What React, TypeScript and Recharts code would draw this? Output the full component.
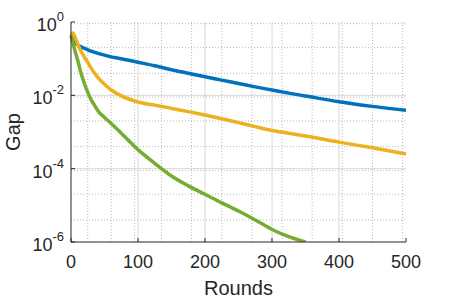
import { LineChart, Line, XAxis, YAxis, CartesianGrid } from 'recharts';

// sampled rounds shared by all three runs
const rounds = [0, 3, 5, 8, 10, 15, 20, 25, 30, 35, 40, 50, 60, 75, 100, 125, 150, 175, 200, 225, 250, 275, 300, 325, 350, 400, 450, 500];

const blueGap = [0.42, 0.34, 0.3, 0.26, 0.24, 0.21, 0.19, 0.175, 0.16, 0.15, 0.14, 0.125, 0.112, 0.1, 0.08, 0.064, 0.05, 0.04, 0.032, 0.026, 0.021, 0.017, 0.014, 0.0115, 0.0096, 0.0067, 0.005, 0.0039];
const orangeGap = [0.4, 0.5, 0.42, 0.31, 0.25, 0.16, 0.11, 0.08, 0.055, 0.041, 0.031, 0.02, 0.014, 0.0097, 0.0066, 0.0054, 0.0044, 0.0036, 0.0029, 0.0023, 0.0018, 0.0014, 0.0011, 0.00093, 0.00078, 0.00053, 0.00037, 0.00025];
const greenGap = [0.42, 0.27, 0.19, 0.12, 0.09, 0.04, 0.021, 0.012, 0.0076, 0.0054, 0.0038, 0.0025, 0.0017, 0.00093, 0.00033, 0.00014, 0.000063, 0.000034, 0.00002, 0.0000117, 0.000007, 0.000004, 0.0000022, 0.0000014, 0.000001, null, null, null];

const xTicks = [0, 100, 200, 300, 400, 500];
const yTicks = [1e-6, 1e-4, 1e-2, 1];

const data = rounds.map((round, i) => ({
  round,
  blue: blueGap[i],
  orange: orangeGap[i],
  green: greenGap[i],
}));

// minor grid, matlab style
const xMinor: number[] = [];
for (let v = 5; v < 500; v += 5) if (v % 100 !== 0) xMinor.push(v);
const yMinor: number[] = [];
for (let k = -6; k < 0; k++) {
  for (let m = 1; m <= 9; m++) {
    if (m === 1 && k % 2 === 0) continue;
    yMinor.push(m * Math.pow(10, k));
  }
}

const FONT = '"Liberation Sans", Arial, sans-serif';
const INK = '#262626';

const PowerTick = ({ x, y, payload }: any) => {
  const exp = Math.round(Math.log10(payload.value));
  return (
    <text x={x} y={y + 9} textAnchor="end" fill={INK} fontFamily={FONT} fontSize={18}>
      <tspan>10</tspan>
      <tspan dy={-10} fontSize={13}>{exp}</tspan>
    </text>
  );
};

const GapLabel = ({ viewBox }: any) => {
  const cy = viewBox.y + viewBox.height / 2;
  return (
    <text x={20} y={cy} transform={`rotate(-90, 20, ${cy})`} textAnchor="middle" fill={INK} fontFamily={FONT} fontSize={20}>
      Gap
    </text>
  );
};

export default function App() {
  return (
    <div style={{ position: 'absolute', left: 0, top: 0, background: '#fff' }}>
      <LineChart width={450} height={300} data={data} margin={{ top: 22, right: 44, bottom: 0, left: 0 }}>
        <CartesianGrid
          horizontalValues={yMinor}
          verticalValues={xMinor}
          stroke="#b8b8b8"
          strokeDasharray="1 2"
        />
        <CartesianGrid
          horizontalValues={[1e-4, 1e-2]}
          verticalValues={[100, 200, 300, 400]}
          stroke="#d8d8d8"
        />
        <XAxis
          dataKey="round"
          type="number"
          domain={[0, 500]}
          ticks={xTicks}
          height={58}
          tickSize={-4}
          tickMargin={17}
          stroke={INK}
          tick={{ fontSize: 18, fill: INK, fontFamily: FONT }}
          label={{ value: 'Rounds', position: 'insideBottom', offset: 5, fontSize: 20, fill: INK, fontFamily: FONT }}
        />
        <XAxis
          xAxisId="top"
          orientation="top"
          dataKey="round"
          type="number"
          domain={[0, 500]}
          ticks={xTicks}
          height={0}
          tickSize={-4}
          stroke={INK}
          tickFormatter={() => ''}
        />
        <YAxis
          scale="log"
          type="number"
          domain={[1e-6, 1]}
          ticks={yTicks}
          allowDataOverflow
          width={71}
          tickSize={-4}
          tickMargin={11}
          stroke={INK}
          tick={<PowerTick />}
          label={<GapLabel />}
        />
        <YAxis
          yAxisId="right"
          orientation="right"
          scale="log"
          type="number"
          domain={[1e-6, 1]}
          ticks={yTicks}
          allowDataOverflow
          width={0}
          tickSize={-4}
          stroke={INK}
          tickFormatter={() => ''}
        />
        <Line dataKey="blue" stroke="#0072BD" strokeWidth={3.5} dot={false} type="monotone" isAnimationActive={false} />
        <Line dataKey="orange" stroke="#EDB120" strokeWidth={3.5} dot={false} type="monotone" isAnimationActive={false} />
        <Line dataKey="green" stroke="#77AC30" strokeWidth={3.5} dot={false} type="monotone" isAnimationActive={false} />
      </LineChart>
    </div>
  );
}
